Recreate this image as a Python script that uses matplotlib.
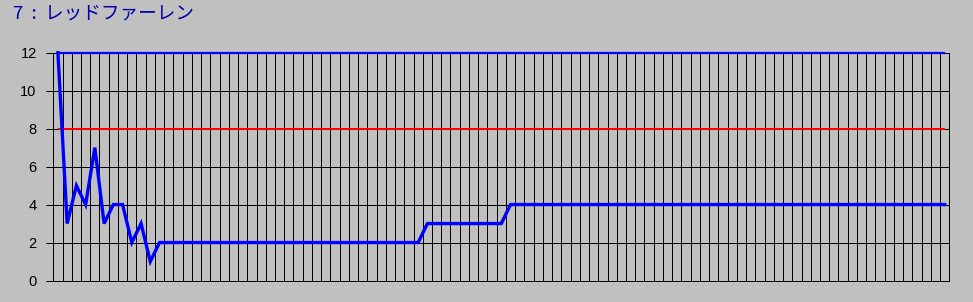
import numpy as np
import matplotlib.pyplot as plt

plt.rcParams['font.family'] = ['Liberation Sans', 'Noto Sans CJK JP', 'DejaVu Sans']

# title + data
title = '7  :  レッドファーレン'

values = [12, 3, 5, 4, 7, 3, 4, 4, 2, 3, 1,
          2, 2, 2, 2, 2, 2, 2, 2, 2, 2, 2, 2, 2, 2, 2,
          2, 2, 2, 2, 2, 2, 2, 2, 2, 2, 2, 2, 2, 2,
          3, 3, 3, 3, 3, 3, 3, 3, 3,
          4, 4, 4, 4, 4, 4, 4, 4, 4, 4, 4, 4, 4, 4, 4, 4,
          4, 4, 4, 4, 4, 4, 4, 4, 4, 4, 4, 4, 4, 4, 4, 4,
          4, 4, 4, 4, 4, 4, 4, 4, 4, 4, 4, 4, 4, 4, 4, 4]
upper_limit = 12   # blauwe lijn bovenaan
target = 8         # rode lijn

y_ticks = [0, 2, 4, 6, 8, 10, 12]

n = len(values)
x = np.arange(n) + 0.5   # punten in het midden van elke categorie

bg = '#c0c0c0'
fig = plt.figure(figsize=(9.73, 3.02), dpi=100, facecolor=bg)
ax = fig.add_axes([53.3/973, 1 - 280.5/302, (949.3 - 53.3)/973, (280.5 - 52.7)/302])
ax.set_facecolor(bg)

ax.plot(x, [upper_limit]*n, color='#0000ff', lw=1.6, zorder=3,
        solid_capstyle='butt', clip_on=False)
ax.plot(x, [target]*n, color='#ff0000', lw=1.5, zorder=3, solid_capstyle='butt')
ax.plot(x, values, color='#0000ff', lw=2.4, zorder=4, solid_joinstyle='miter',
        clip_on=False)

ax.set_xlim(0, n)
ax.set_ylim(0, 12)
ax.set_yticks(y_ticks)
ax.set_xticks(np.arange(1, n))
ax.tick_params(axis='x', length=0, labelbottom=False)
ax.tick_params(axis='y', length=5, width=0.72, color='black', labelsize=10.5, pad=7)
ax.grid(True, color='black', lw=0.72)
ax.set_axisbelow(True)
for s in ax.spines.values():
    s.set_color('black')
    s.set_linewidth(0.72)

fig.text(13/973, 1 - 5/302, title, color='#0000a8', fontsize=13.4, va='top', ha='left',
         family=['Noto Sans CJK JP', 'DejaVu Sans'])

fig.savefig('out.png', dpi=100, facecolor=bg)
